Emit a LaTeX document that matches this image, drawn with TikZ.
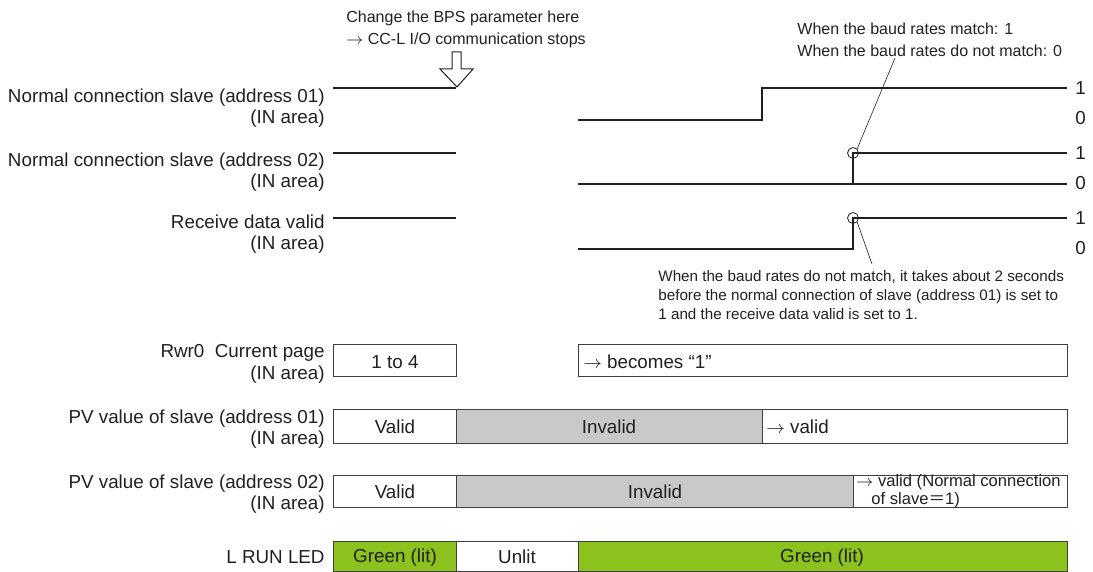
\documentclass[tikz,border=0pt]{standalone}
\usepackage{fontspec}
\setmainfont{Liberation Sans}
\newfontfamily\cjk{Noto Sans CJK JP}
\usepackage{tikz}
\definecolor{ink}{HTML}{231F20}
\definecolor{edge}{HTML}{404040}
\definecolor{cellgray}{HTML}{C9C9C9}
\definecolor{ledgreen}{HTML}{8CC21E}
\tikzset{
  every picture/.style={
    line join=miter,
    text=ink,
  },
  rowlabel/.style={anchor=east, align=right, inner sep=0pt,
    font=\fontsize{9.4}{10.8}\selectfont},
  note/.style={anchor=west, align=left, inner sep=0pt,
    font=\fontsize{8}{11}\selectfont},
  level/.style={anchor=west, inner sep=0pt, font=\fontsize{9.4}{10.8}\selectfont},
  celltext/.style={inner sep=0pt, font=\fontsize{9.4}{10.8}\selectfont},
  signal/.style={ink, line width=1.25pt},
  cell/.style={draw=edge, line width=0.5pt},
  leader/.style={ink, line width=0.3pt},
  hitmark/.style={circle, draw=ink, line width=0.4pt, minimum size=5.5pt, inner sep=0pt},
}

\begin{document}
\begin{tikzpicture}[x=0.5pt, y=-0.5pt]
    \useasboundingbox (0,0) rectangle (1093,572);

    % Top note and hollow arrow
    \node[note] (bps) at (346,29) {Change the BPS parameter here\\$\rightarrow$ CC-L I/O communication stops};
    \draw[ink, line width=0.5pt, fill=white] (452,52) -- (461,52) -- (461,69) -- (473,69)
        -- (457,87) -- (440,69) -- (452,69) -- cycle;

    % Signal labels
    \node[rowlabel] (s1) at (325,108) {Normal connection slave (address 01)\\(IN area)};
    \node[rowlabel] (s2) at (325,172) {Normal connection slave (address 02)\\(IN area)};
    \node[rowlabel] (s3) at (325,234) {Receive data valid\\(IN area)};

    % Waveforms
    \draw[signal] (333,88) -- (456,88);
    \draw[signal] (578,120) -- (762,120) -- (762,88) -- (1067,88);
    \draw[signal] (333,153) -- (456,153);
    \draw[signal] (578,184) -- (1067,184);
    \draw[signal] (853,184) -- (853,153) -- (1067,153);
    \draw[signal] (333,218) -- (456,218);
    \draw[signal] (578,249) -- (853,249) -- (853,218) -- (1067,218);

    % Levels
    \foreach \y/\v in {88/1, 118/0, 153/1, 183/0, 218/1, 248/0}
        \node[level] at (1075,\y) {\v};

    % Change points and notes
    \node[hitmark] (m2) at (853,153) {};
    \node[hitmark] (m3) at (853,218) {};
    \node[note] (match) at (797,40) {When the baud rates match: 1\\When the baud rates do not match: 0};
    \node[note, font=\fontsize{7.6}{9.3}\selectfont] (delay) at (658,295)
        {When the baud rates do not match, it takes about 2 seconds\\before the normal connection of slave (address 01) is set to\\1 and the receive data valid is set to 1.};
    \coordinate (matchend) at (895,58);
    \coordinate (delayend) at (872,264);
    \draw[leader] (m2.north east) -- (matchend);
    \draw[leader] (m3.south east) -- (delayend);

    % Register rows
    \node[rowlabel] (r1) at (325,364) {Rwr0\ \ Current page\\(IN area)};
    \node[rowlabel] (r2) at (325,429) {PV value of slave (address 01)\\(IN area)};
    \node[rowlabel] (r3) at (325,494) {PV value of slave (address 02)\\(IN area)};
    \node[rowlabel] (r4) at (325,557) {L RUN LED};

    \draw[cell, fill=white] (333,345) rectangle (456,377);
    \draw[cell, fill=white] (578,345) rectangle (1067,377);
    \node[celltext] (pg) at (395,362) {1 to 4};
    \node[celltext, anchor=west] (pgnew) at (583,362) {$\rightarrow$ becomes “1”};

    \draw[cell, fill=white] (333,410) rectangle (456,443);
    \draw[cell, fill=cellgray] (456,410) rectangle (762,443);
    \draw[cell, fill=white] (762,410) rectangle (1067,443);
    \node[celltext] (pv1a) at (395,427) {Valid};
    \node[celltext] (pv1b) at (609,427) {Invalid};
    \node[celltext, anchor=west] (pv1c) at (766,427) {$\rightarrow$ valid};

    \draw[cell, fill=white] (333,475) rectangle (456,507);
    \draw[cell, fill=cellgray] (456,475) rectangle (853,507);
    \draw[cell, fill=white] (853,475) rectangle (1067,507);
    \node[celltext] (pv2a) at (395,492) {Valid};
    \node[celltext] (pv2b) at (655,492) {Invalid};
    \node[celltext, anchor=west, align=left, font=\fontsize{8.3}{7.6}\selectfont] (pv2c) at (856,491)
        {$\rightarrow$ valid (Normal connection\\\hspace*{0.9em}of slave{\cjk ＝}1)};

    % LED
    \draw[cell, fill=ledgreen] (333,541) rectangle (456,571);
    \draw[cell, fill=white] (456,541) rectangle (578,571);
    \draw[cell, fill=ledgreen] (578,541) rectangle (1067,571);
    \node[celltext] (led1) at (395,558) {Green (lit)};
    \node[celltext] (led2) at (517,557) {Unlit};
    \node[celltext] (led3) at (822,558) {Green (lit)};
\end{tikzpicture}
\end{document}
